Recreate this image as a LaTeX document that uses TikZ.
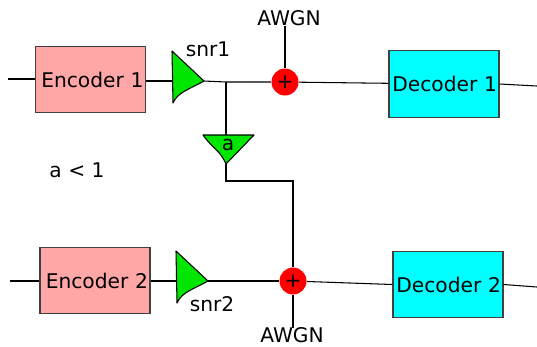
\documentclass[tikz,border=0pt]{standalone}
\usepackage{fontspec}
\setmainfont{DejaVu Sans}
\usepackage{xcolor}
\usetikzlibrary{calc}
\definecolor{encpink}{RGB}{255,166,166}
\definecolor{deccyan}{RGB}{0,255,255}
\definecolor{ampgreen}{RGB}{0,230,0}
\tikzset{
    bloco/.style={
        rectangle,
        draw=black!75,
        semithick,
        align=right,
        inner sep=0pt,
        text width=2.12cm,
        minimum width=2.2cm,
        minimum height=1.33cm,
        font=\fontsize{11.5}{14}\selectfont
    },
    encoder/.style={bloco, fill=encpink},
    decoder/.style={bloco, fill=deccyan},
    somador/.style={circle, fill=red, inner sep=0pt, minimum size=0.54cm},
    rotulo/.style={inner sep=0pt, font=\fontsize{11.5}{14}\selectfont},
    fio/.style={semithick},
    ganho/.style={draw, semithick, fill=ampgreen, line join=round}
}
\begin{document}
\begin{tikzpicture}[x=0.02cm,y=-0.02cm]
    \useasboundingbox (0,0) rectangle (537,346);

    \node[encoder] (enc1) at (90.5,79.5) {Encoder 1};
    \node[encoder] (enc2) at (95,280.5) {Encoder 2};
    \node[decoder] (dec1) at (444,84) {Decoder 1};
    \node[decoder] (dec2) at (448,284.5) {Decoder 2};

    \node[rotulo] (awgn1) at (289,18) {AWGN};
    \node[rotulo] (awgn2) at (292,335.5) {AWGN};
    \node[rotulo] (snr1) at (208,49) {snr1};
    \node[rotulo] (snr2) at (212,304) {snr2};
    \node[rotulo] (cond) at (77,170) {a < 1};

    \coordinate (in1) at (8,79);
    \coordinate (in2) at (10,281);
    \coordinate (out1) at (537,86);
    \coordinate (out2) at (537,287);
    \coordinate (amp1in) at (172,81);
    \coordinate (amp1tip) at (204,81);
    \coordinate (amp2in) at (176,281);
    \coordinate (amp2tip) at (208,281);
    \coordinate (tap) at (226,82);
    \coordinate (atop) at (226,135);
    \coordinate (atip) at (226,164);
    \coordinate (elbow1) at (226,181);
    \coordinate (elbow2) at (293,181);

    \node[somador] (sum1) at (285,82) {};
    \node[somador] (sum2) at (293,281) {};

    \draw[fio] (in1) -- (enc1.west |- in1);
    \draw[fio] (enc1.east |- amp1in) -- (amp1in);
    \draw[fio] (amp1tip) -- (tap) -- (sum1);
    \draw[fio] (sum1) -- (dec1);
    \draw[fio] (dec1.east) -- (out1);
    \draw[fio] (awgn1.south -| sum1) -- (sum1);
    \draw[fio] (tap) -- (atop);
    \draw[fio] (atip) -- (elbow1) -- (elbow2) -- (sum2);

    \draw[fio] (in2) -- (enc2.west |- in2);
    \draw[fio] (enc2.east |- amp2in) -- (amp2in);
    \draw[fio] (amp2tip) -- (sum2);
    \draw[fio] (sum2) -- (dec2.west);
    \draw[fio] (dec2.east) -- (out2);
    \draw[fio] (sum2) -- (awgn2.north -| sum2);

    % triangulos
    \draw[ganho] (172,51) -- (amp1tip) .. controls (188,90) and (178,92) .. (173,103) -- cycle;
    \draw[ganho] (176,251) -- (amp2tip) .. controls (192,290) and (182,292) .. (177,303) -- cycle;
    \draw[ganho] (203,135) -- (254,135) -- (atip) .. controls (220,150) and (212,148) .. cycle;
    \node[rotulo] (gain) at (228,145) {a};

    \node[rotulo] (plus1) at (sum1) {+};
    \node[rotulo] (plus2) at (sum2) {+};
\end{tikzpicture}
\end{document}
